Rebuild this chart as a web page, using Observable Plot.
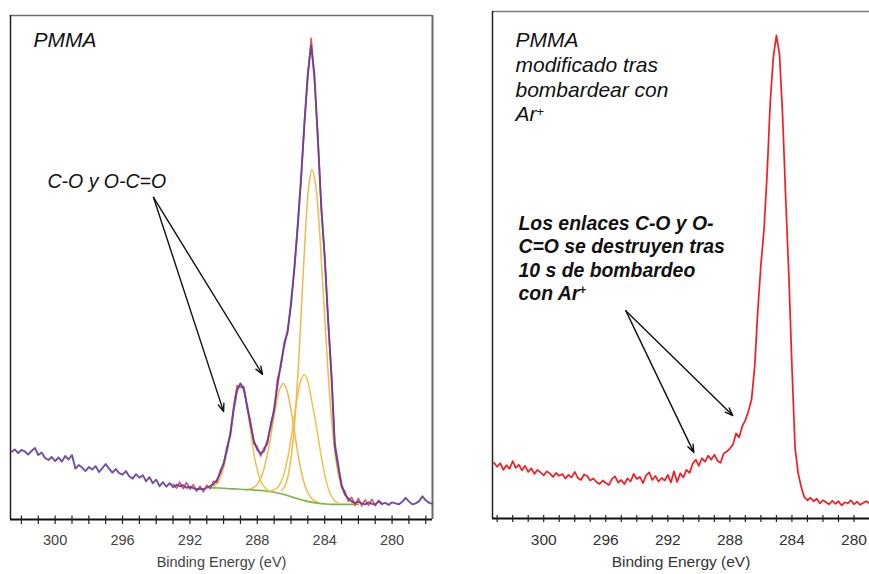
<!DOCTYPE html>
<html><head><meta charset="utf-8">
<script src="https://cdn.jsdelivr.net/npm/d3@7"></script>
<script src="https://cdn.jsdelivr.net/npm/@observablehq/plot@0.6"></script>
<style>
html,body{margin:0;padding:0;background:#fff;}
#wrap{position:relative;width:869px;height:574px;overflow:hidden;background:#fff;}
#left{position:absolute;left:0;top:0;}
#right{position:absolute;left:480px;top:0;}
</style></head><body><div id="wrap"><div id="left"></div><div id="right"></div></div>
<script>
const FONT = "'Liberation Sans', Arial, Helvetica, sans-serif";
const STEP = 0.2;

// ---------- Left panel: PMMA ----------
const leftTickLabels = [300, 296, 292, 288, 284, 280];
const leftEnvStart = 302.6;
const leftEnvelope = [
  13.4,13.9,13.2,13.8,13.5,12.9,13.6,14.2,12.8,13.3,
  12.2,11.8,12.4,11.6,12.3,11.5,12.6,11.9,12.8,10.1,
  10.8,10.3,9.6,10.4,9.9,10.6,9.4,10.2,11.0,10.1,
  9.3,10.0,9.2,8.9,9.6,8.6,8.1,9.0,8.3,8.8,
  7.6,8.4,7.2,7.9,6.6,7.4,6.5,7.2,6.4,6.9,
  6.6,6.8,6.3,6.5,6.2,6.0,6.1,6.0,6.3,6.6,
  7.0,7.8,9.2,11.2,13.8,17.0,21.8,25.6,27.0,25.8,
  22.6,18.8,15.6,13.8,13.1,13.6,15.6,18.5,22.0,26.6,
  31.0,34.5,37.5,42.5,50.0,58.0,68.0,78.5,88.5,94.0,
  88.0,75.0,62.0,52.0,40.0,28.5,14.5,10.5,7.0,5.0,
  4.2,3.6,3.3,3.5,3.2,3.0,3.4,3.1,3.0,3.6,
  3.1,3.3,2.9,3.4,3.2,3.0,3.5,4.3,3.6,3.0,
  3.2,3.6,4.6,3.8,3.3,3.1
];
const leftRawStart = 293.0;
const leftRaw = [
  7.0,6.2,7.4,6.1,7.3,6.0,6.9,5.6,6.6,5.5,
  6.8,6.1,7.6,7.4,9.8,10.8,14.5,16.6,22.5,26.6,
  26.2,26.4,22.0,19.4,15.0,14.4,12.6,14.2,15.0,19.2,
  21.4,28.0,30.2,35.2,37.0,43.3,49.4,58.8,67.3,79.2,
  88.0,95.5,86.5,75.8,61.4,52.6,39.4,29.2,15.4,11.2,
  6.4,5.6,3.6,4.4,2.8,4.2,2.7,3.9,2.8,4.0,
  2.7,3.8,3.0
];
const bgEnergy = [290.8,290.4,290.0,289.6,289.2,288.8,288.4,288.0,287.6,287.2,286.8,286.4,286.0,285.6,285.2,284.8,284.4,284.0,283.6,283.2,282.8,282.4,282.0];
const bgValue  = [6.3,6.25,6.2,6.1,6.05,5.95,5.9,5.8,5.7,5.5,5.25,4.95,4.5,4.1,3.75,3.45,3.25,3.1,3.0,3.0,3.0,3.0,3.0];
const comp1Start = 290.6;
const comp1 = [6.6,7.1,8.2,10.2,13.5,17.7,22.2,25.7,27.0,25.7,22.0,17.5,13.1,9.8,7.7,6.5,5.9,5.6];
const comp2Start = 288.45;
const comp2 = [6.1,6.3,6.8,7.8,9.5,12.2,15.6,19.6,23.4,26.1,27.0,25.7,22.7,18.6,14.3,10.5,7.6,5.7,4.5,3.8,3.5];
const comp3Start = 287.2;
const comp3 = [5.7,5.9,6.35,7.4,9.25,12.15,16.0,20.4,24.7,27.7,28.75,27.4,24.05,20.5,16.5,12.5,9.0,6.3,4.6,3.7,3.3];
const comp4Start = 286.55;
const comp4 = [5.8,6.7,9.0,13.4,20.7,31.2,44.0,56.6,66.0,69.5,66.7,59.4,48.7,37.4,26.8,18.2,12.2,8.3,6.0,4.6,3.8,3.4,3.2];

const leftTitle = "PMMA";
const leftNote = "C-O y O-C=O";
const leftArrowX1 = [294.16, 294.16];
const leftArrowY1 = [63.9, 63.9];
const leftArrowX2 = [290.0, 287.69];
const leftArrowY2 = [21.4, 28.8];

// ---------- Right panel: PMMA after Ar+ ----------
const rightTickLabels = [300, 296, 292, 288, 284, 280];
const rightStart = 303.2;
const rightSpectrum = [
  11.0,10.2,10.9,9.6,10.5,9.8,11.3,10.0,10.6,9.5,
  10.4,9.2,9.9,8.8,9.6,9.1,8.5,9.3,8.9,8.2,
  9.0,8.4,8.8,7.9,8.6,8.1,9.2,8.0,7.6,8.7,
  8.4,7.5,7.9,7.2,6.8,7.5,7.0,6.6,7.8,8.3,
  7.1,7.6,6.8,7.9,7.3,8.8,7.8,8.2,7.0,8.5,
  9.1,7.6,8.4,7.3,8.0,7.5,8.6,7.1,9.3,7.2,
  8.9,8.1,9.6,9.0,10.8,11.6,10.4,11.9,11.2,12.4,
  11.6,12.6,11.4,11.0,12.8,13.2,13.8,14.6,16.8,16.0,
  18.2,19.4,21.2,23.5,30.0,41.0,50.0,57.0,68.0,82.0,
  91.0,95.3,91.5,79.5,63.0,48.0,30.0,14.0,9.0,6.2,
  4.2,3.6,4.1,3.4,3.9,3.0,3.6,3.2,2.8,3.5,
  2.9,3.4,2.6,3.2,3.0,3.6,2.8,3.3,2.7,3.1,
  3.4,3.0
];
const rightTitle = "PMMA\nmodificado tras\nbombardear con\nAr\u207A";
const rightNote = "Los enlaces C-O y O-\nC=O se destruyen tras\n10 s de bombardeo\ncon Ar\u207A";
const rightArrowX1 = [294.71, 294.71];
const rightArrowY1 = [41.0, 41.0];
const rightArrowX2 = [290.32, 287.81];
const rightArrowY2 = [13.0, 20.3];

const axisTitle = "Binding Energy (eV)";

// ---------- helpers ----------
const series = (start, vals) => vals.map((v, i) => ({e: +(start - i * STEP).toFixed(3), v}));
const arrows = (x1, y1, x2, y2) => x1.map((_, i) => ({x1: x1[i], y1: y1[i], x2: x2[i], y2: y2[i]}));

// render "Ar⁺" with a true raised plus in the main font
function fixSuperscripts(svg) {
  svg.querySelectorAll("tspan, text").forEach(el => {
    if (el.children.length === 0 && el.textContent.endsWith("\u207A")) {
      el.textContent = el.textContent.slice(0, -1);
      const sup = document.createElementNS("http://www.w3.org/2000/svg", "tspan");
      sup.setAttribute("dy", "-0.45em");
      sup.setAttribute("font-size", "0.62em");
      sup.setAttribute("font-style", "normal");
      sup.textContent = "+";
      el.appendChild(sup);
    }
  });
}

// ---------- left chart ----------
const LX = [302.65, 277.6];
const leftMinor = d3.range(278, 303, 1);
const leftPlot = Plot.plot({
  width: 445, height: 574,
  marginLeft: 10, marginRight: 13, marginTop: 15, marginBottom: 55,
  style: {fontFamily: FONT, fontSize: "14.5px", background: "white", color: "#444", overflow: "visible"},
  x: {domain: LX, ticks: leftTickLabels, tickSize: 0, tickPadding: 15, label: null, tickFormat: d => String(d)},
  y: {domain: [0, 100], axis: null},
  marks: [
    Plot.ruleY([100], {stroke: "#6b6b6b", strokeWidth: 1.5}),
    Plot.ruleX([LX[1]], {stroke: "#6b6b6b", strokeWidth: 2}),
    Plot.ruleX([LX[0]], {stroke: "#222", strokeWidth: 1.5}),
    Plot.line(bgEnergy.map((e, i) => ({e, v: bgValue[i]})), {x: "e", y: "v", stroke: "#79b541", strokeWidth: 1.6, curve: "monotone-x"}),
    Plot.line(series(comp1Start, comp1), {x: "e", y: "v", stroke: "#f1c24e", strokeWidth: 1.5, curve: "catmull-rom"}),
    Plot.line(series(comp2Start, comp2), {x: "e", y: "v", stroke: "#f3b848", strokeWidth: 1.5, curve: "catmull-rom"}),
    Plot.line(series(comp3Start, comp3), {x: "e", y: "v", stroke: "#f1c24e", strokeWidth: 1.5, curve: "catmull-rom"}),
    Plot.line(series(comp4Start, comp4), {x: "e", y: "v", stroke: "#f3b848", strokeWidth: 1.5, curve: "catmull-rom"}),
    Plot.line(series(leftRawStart, leftRaw), {x: "e", y: "v", stroke: "#e4525a", strokeWidth: 1.6}),
    Plot.line(series(leftEnvStart, leftEnvelope), {x: "e", y: "v", stroke: "#5f3d9c", strokeWidth: 1.9, strokeOpacity: 0.9}),
    Plot.ruleY([0], {stroke: "#111", strokeWidth: 2}),
    Plot.ruleX(leftMinor, {y1: -1, y2: 0.7, stroke: "#222", strokeWidth: 1.2}),
    Plot.text([axisTitle], {frameAnchor: "bottom", dy: 47, fontSize: 14.5, fill: "#444"}),
    Plot.text([leftTitle], {frameAnchor: "top-left", dx: 23, dy: 17, textAnchor: "start", lineAnchor: "top", fontSize: 21, fontStyle: "italic", fill: "#111"}),
    Plot.text([leftNote], {frameAnchor: "top-left", dx: 37, dy: 159, textAnchor: "start", lineAnchor: "top", fontSize: 19.5, fontStyle: "italic", fill: "#111"}),
    Plot.arrow(arrows(leftArrowX1, leftArrowY1, leftArrowX2, leftArrowY2), {x1: "x1", y1: "y1", x2: "x2", y2: "y2", stroke: "#111", strokeWidth: 1.4, headLength: 9, headAngle: 40})
  ]
});
document.getElementById("left").appendChild(leftPlot);

// ---------- right chart ----------
const RX = [303.3, 279.0];
const rightMinor = d3.range(280, 304, 1);
const rightPlot = Plot.plot({
  width: 389, height: 574,
  marginLeft: 12, marginRight: 0, marginTop: 11, marginBottom: 56,
  style: {fontFamily: FONT, fontSize: "15.5px", background: "white", color: "#333", overflow: "visible"},
  x: {domain: RX, ticks: rightTickLabels, tickSize: 0, tickPadding: 15, label: null, tickFormat: d => String(d)},
  y: {domain: [0, 100], axis: null},
  marks: [
    Plot.ruleY([100], {stroke: "#7a7a7a", strokeWidth: 1.5}),
    Plot.ruleX([RX[0]], {stroke: "#222", strokeWidth: 1.5}),
    Plot.line(series(rightStart, rightSpectrum), {x: "e", y: "v", stroke: "#f41c22", strokeWidth: 1.7}),
    Plot.ruleY([0], {stroke: "#111", strokeWidth: 2}),
    Plot.ruleX(rightMinor, {y1: -0.8, y2: 0.6, stroke: "#222", strokeWidth: 1.2}),
    Plot.text([axisTitle], {frameAnchor: "bottom", dy: 48, fontSize: 15.5, fill: "#333"}),
    Plot.text([rightTitle], {frameAnchor: "top-left", dx: 23, dy: 18, textAnchor: "start", lineAnchor: "top", fontSize: 21, lineHeight: 1.18, fontStyle: "italic", fill: "#111"}),
    Plot.text([rightNote], {frameAnchor: "top-left", dx: 26, dy: 202, textAnchor: "start", lineAnchor: "top", fontSize: 19.4, lineHeight: 1.2, fontStyle: "italic", fontWeight: "bold", fill: "#111"}),
    Plot.arrow(arrows(rightArrowX1, rightArrowY1, rightArrowX2, rightArrowY2), {x1: "x1", y1: "y1", x2: "x2", y2: "y2", stroke: "#111", strokeWidth: 1.4, headLength: 9, headAngle: 40})
  ]
});
fixSuperscripts(rightPlot);
document.getElementById("right").appendChild(rightPlot);
</script></body></html>
